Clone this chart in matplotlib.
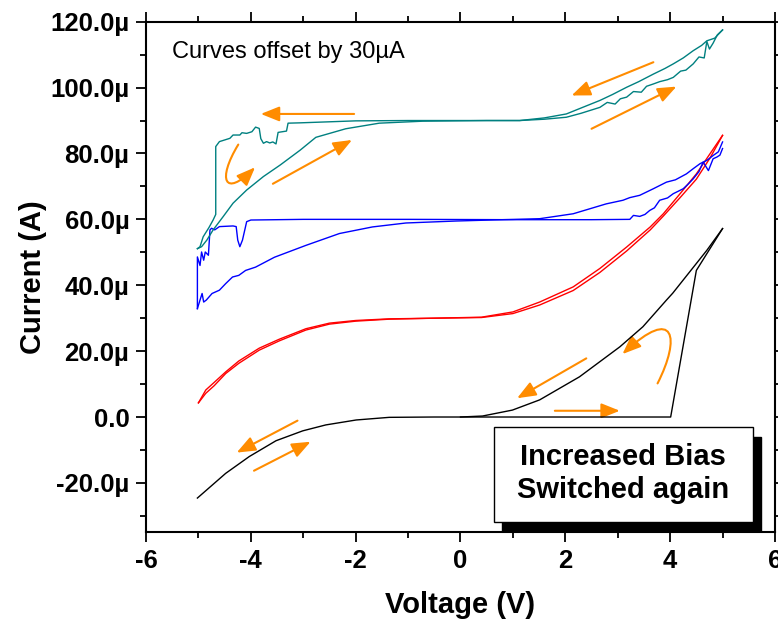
import matplotlib
matplotlib.use("Agg")
import matplotlib.pyplot as plt
from matplotlib.path import Path
from matplotlib.patches import FancyArrowPatch, Rectangle

plt.rcParams['font.family'] = ['Liberation Sans', 'DejaVu Sans']

# values in uA, curves offset by 30 uA each
black_up_v = [-5.02, -4.48, -4.03, -3.52, -3.01, -2.57, -1.99, -1.36, -0.5, 0.5, 4.01, 4.5, 5.0]
black_up_i = [-24.6, -17.1, -12.0, -7.2, -4.2, -2.4, -0.9, -0.1, 0.0, 0.0, 0.0, 44.5, 57.2]
black_down_v = [5.0, 4.7, 4.05, 3.93, 3.48, 3.04, 2.27, 1.51, 0.99, 0.42, 0.0]
black_down_i = [57.2, 50.6, 37.6, 35.5, 27.4, 21.3, 12.2, 5.2, 2.1, 0.3, 0.0]

red_v = [-5.0, -4.86, -4.7, -4.48, -4.23, -3.84, -3.46, -2.95, -2.5, -2.0, -1.36, -0.5,
         0.4, 1.0, 1.51, 2.15, 2.66, 3.17, 3.62, 3.87, 4.19, 4.5, 4.76, 5.0]
red_a_i = [4.3, 7.2, 9.5, 13.2, 16.3, 20.3, 23.1, 26.4, 28.2, 29.1, 29.7, 30.0,
           30.3, 31.9, 34.9, 39.5, 45.1, 51.6, 57.7, 61.7, 67.8, 73.8, 79.9, 85.5]
red_b_i = [4.3, 8.2, 10.5, 13.7, 17.0, 20.9, 23.6, 26.8, 28.5, 29.3, 29.8, 30.0,
           30.2, 31.4, 34.0, 38.4, 43.9, 50.4, 56.8, 61.0, 66.6, 72.2, 78.6, 85.5]

blue_a_v = [5.0, 4.95, 4.89, 4.82, 4.73, 4.63, 4.55, 4.44, 4.35, 4.25, 4.15, 4.06, 3.95,
            3.8, 3.7, 3.61, 3.52, 3.42, 3.3, 3.23, 2.5, 1.0, -1.0, -3.0, -4.0, -4.08,
            -4.16, -4.21, -4.25, -4.28, -4.34, -4.6, -4.69, -4.75, -4.78, -4.81, -4.87,
            -4.9, -4.94, -4.97, -5.02, -5.02]
blue_a_i = [81.5, 79.5, 78.9, 78.4, 74.8, 77.4, 74.5, 72.3, 70.8, 69.3, 68.5, 67.8, 66.5,
            65.8, 63.5, 62.7, 61.5, 60.9, 61.2, 60.0, 59.9, 59.9, 60.0, 60.0, 59.8, 59.3,
            53.7, 51.7, 53.7, 57.8, 58.0, 57.8, 56.8, 57.3, 56.8, 49.1, 50.1,
            47.6, 50.1, 46.0, 48.6, 32.9]
blue_b_v = [-5.02, -4.97, -4.93, -4.9, -4.85, -4.74, -4.6, -4.48, -4.35, -4.23, -4.1,
            -3.91, -3.55, -2.95, -2.31, -1.68, -1.04, -0.08, 0.8, 1.51, 2.15, 2.78,
            3.1, 3.23, 3.42, 3.68, 3.93, 4.1, 4.31, 4.45, 4.57, 4.7, 4.83, 4.92, 5.0]
blue_b_i = [32.9, 35.5, 37.5, 34.9, 35.5, 37.5, 38.5, 40.5, 42.5, 43.0, 44.5,
            45.5, 48.5, 52.1, 55.7, 57.7, 58.9, 59.5, 59.9, 60.2, 61.7, 64.7,
            65.8, 66.6, 67.3, 69.3, 71.3, 72.0, 73.8, 75.5, 76.9, 77.9, 79.5, 80.5, 83.5]

teal_a_v = [-5.02, -4.97, -4.91, -4.8, -4.72, -4.67, -4.67, -4.6, -4.4, -4.34, -4.21,
            -4.17, -4.08, -3.98, -3.91, -3.84, -3.81, -3.76, -3.7, -3.64, -3.58, -3.52,
            -3.48, -3.32, -3.29, -3.06, -2.0, -1.0, 0.5, 1.13, 1.6, 2.02, 2.3, 2.66,
            2.9, 3.17, 3.4, 3.68, 3.9, 4.06, 4.25, 4.44, 4.6, 4.7, 4.85, 5.0]
teal_a_i = [51.1, 51.7, 54.7, 57.5, 59.8, 61.5, 82.1, 83.6, 84.6, 85.6, 85.6,
            86.3, 86.1, 86.6, 88.0, 87.6, 84.5, 83.1, 83.6, 83.2, 83.5, 82.9,
            86.4, 86.8, 89.2, 89.3, 89.9, 90.0, 90.0, 90.0, 90.8, 92.0, 93.8, 96.1,
            97.9, 100.1, 101.8, 104.1, 105.8, 107.2, 109.0, 111.2, 112.8, 114.2, 115.0, 117.5]
teal_b_v = [-5.02, -4.94, -4.84, -4.72, -4.53, -4.34, -4.08, -3.76, -3.44, -3.06,
            -2.76, -2.19, -1.55, -0.72, 0.5, 1.13, 1.6, 2.02, 2.3, 2.5, 2.66, 2.8,
            2.95, 3.05, 3.17, 3.3, 3.45, 3.55, 3.68, 3.8, 3.95, 4.06, 4.2, 4.3, 4.44,
            4.55, 4.65, 4.7, 4.75, 4.82, 4.9, 5.0]
teal_b_i = [51.1, 51.7, 53.7, 56.8, 60.8, 64.9, 68.9, 73.0, 76.5, 81.0,
            84.9, 87.5, 89.2, 89.8, 90.0, 90.0, 90.4, 91.0, 92.2, 93.2, 94.0, 95.5,
            95.0, 96.6, 97.1, 98.8, 98.6, 100.4, 101.1, 101.8, 102.4, 103.1, 105.0, 105.3, 107.2,
            109.3, 109.0, 114.0, 111.7, 113.5, 116.0, 117.5]

x_ticks = [-6, -4, -2, 0, 2, 4, 6]
y_ticks = [-20, 0, 20, 40, 60, 80, 100, 120]
y_tick_labels = ['-20.0µ', '0.0', '20.0µ', '40.0µ', '60.0µ', '80.0µ', '100.0µ', '120.0µ']

orange = '#FF8C00'

fig = plt.figure(figsize=(7.78, 6.31), dpi=100)
ax = fig.add_axes([0.1877, 0.1564, 0.8084, 0.8092])

ax.plot(black_up_v, black_up_i, color='black', lw=1.0)
ax.plot(black_down_v, black_down_i, color='black', lw=1.0)
ax.plot(red_v, red_a_i, color='red', lw=1.0)
ax.plot(red_v, red_b_i, color='red', lw=1.0)
ax.plot(blue_a_v, blue_a_i, color='blue', lw=1.0)
ax.plot(blue_b_v, blue_b_i, color='blue', lw=1.0)
ax.plot(teal_a_v, teal_a_i, color='#008080', lw=1.0)
ax.plot(teal_b_v, teal_b_i, color='#008080', lw=1.0)

# orange direction arrows
astyle = "-|>,head_length=0.75,head_width=0.3"
straight = [((3.68, 107.7), (2.12, 97.6)),
            ((2.5, 87.5), (4.12, 100.3)),
            ((-2.03, 92.0), (-3.81, 92.0)),
            ((-3.58, 70.8), (-2.07, 84.1)),
            ((-3.11, -1.1), (-4.27, -10.8)),
            ((-3.94, -16.3), (-2.86, -7.5)),
            ((2.4, 17.8), (1.08, 5.7)),
            ((1.8, 1.9), (3.04, 1.9))]
for s, e in straight:
    ax.add_patch(FancyArrowPatch(s, e, arrowstyle=astyle, mutation_scale=15,
                                 color=orange, lw=1.5, shrinkA=0, shrinkB=0))

curves = [[(-4.24, 82.7), (-4.65, 72.0), (-4.5, 66.5), (-3.92, 75.8)],
          [(3.76, 10.2), (4.2, 24.0), (4.1, 34.0), (3.09, 19.1)]]
for pts in curves:
    p = Path(pts, [Path.MOVETO, Path.CURVE4, Path.CURVE4, Path.CURVE4])
    ax.add_patch(FancyArrowPatch(path=p, arrowstyle=astyle, mutation_scale=15,
                                 color=orange, lw=1.5))

ax.text(-5.51, 110.8, 'Curves offset by 30µA', fontsize=17, ha='left', va='center')

# label box with shadow
ax.add_patch(Rectangle((0.566, 0.0005), 0.412, 0.186, transform=ax.transAxes,
                       facecolor='black', edgecolor='black', zorder=5))
ax.add_patch(Rectangle((0.553, 0.020), 0.412, 0.186, transform=ax.transAxes,
                       facecolor='white', edgecolor='black', lw=1.0, zorder=6))
ax.text(0.759, 0.115, 'Increased Bias\nSwitched again', transform=ax.transAxes,
        fontsize=21, fontweight='bold', ha='center', va='center',
        linespacing=1.25, zorder=7)

ax.set_xlim(-6, 6)
ax.set_ylim(-35, 120)
ax.set_xticks(x_ticks)
ax.set_xticks(range(-6, 7), minor=True)
ax.set_yticks(y_ticks)
ax.set_yticks(range(-30, 121, 10), minor=True)
ax.set_yticklabels(y_tick_labels)
ax.set_xticklabels([str(t) for t in x_ticks])

for lab in ax.get_xticklabels() + ax.get_yticklabels():
    lab.set_fontweight('bold')
    lab.set_fontsize(18.5)

ax.tick_params(which='both', direction='out', top=True, right=True, width=1.3)
ax.tick_params(which='major', length=7, pad=5)
ax.tick_params(which='minor', length=4)
for sp in ax.spines.values():
    sp.set_linewidth(1.5)

ax.set_xlabel('Voltage (V)', fontsize=21, fontweight='bold')
ax.set_ylabel('Current (A)', fontsize=21, fontweight='bold')
ax.xaxis.set_label_coords(0.5, -0.115)
ax.yaxis.set_label_coords(-0.158, 0.5)

fig.savefig('out.png', dpi=100)
